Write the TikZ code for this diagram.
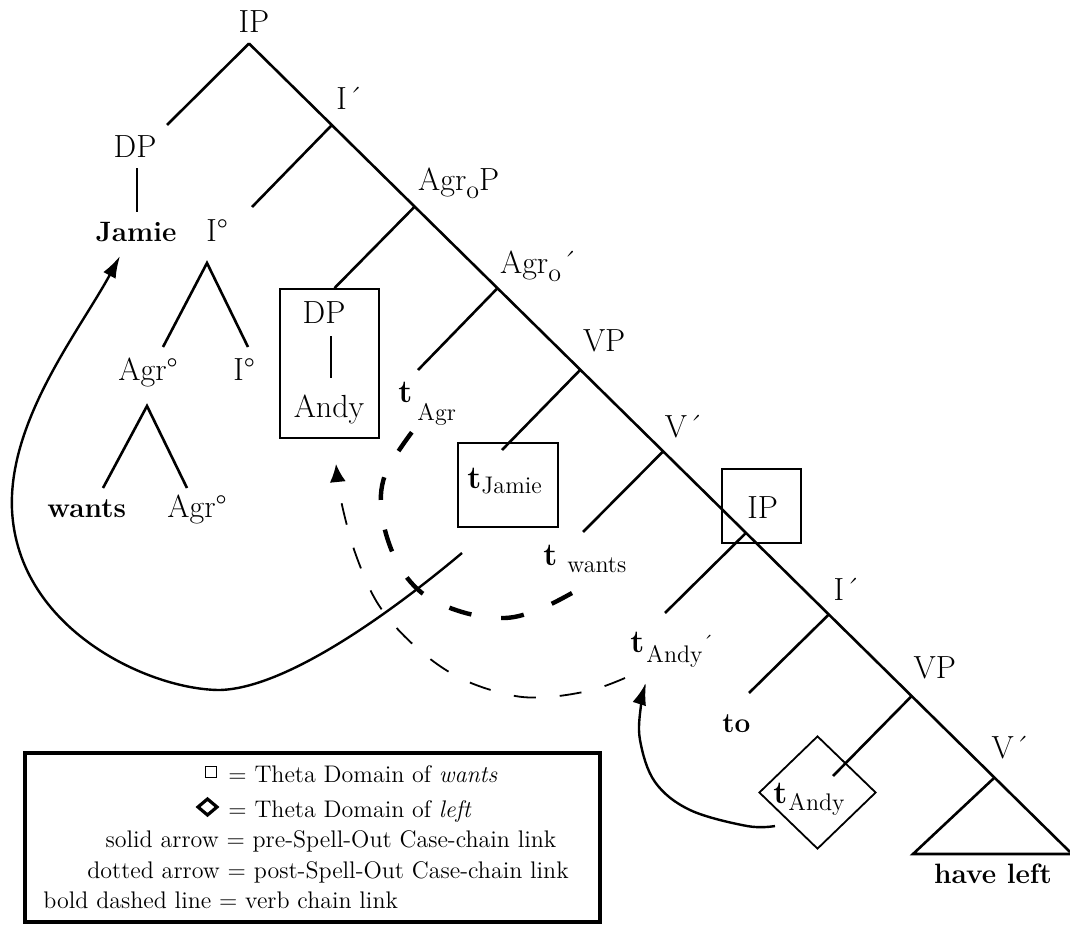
\documentclass[tikz,border=0pt]{standalone}
\usepackage{fontspec}
\usetikzlibrary{arrows.meta,calc,shapes.geometric}

\tikzset{
  branch/.style={line width=1.3pt},
  frame/.style={draw, line width=0.9pt, inner sep=0pt},
  cat/.style={inner sep=0pt, font=\fontsize{16}{19}\selectfont},
  word/.style={inner sep=0pt, font=\fontsize{14}{17}\selectfont\bfseries},
  legend/.style={inner sep=0pt, font=\fontsize{12}{14}\selectfont},
  caselink/.style={line width=1.2pt, -{Latex[length=11pt,width=7pt]}},
  postlink/.style={line width=0.9pt, dash pattern=on 11pt off 12pt, -{Latex[length=9pt,width=8pt]}},
  verblink/.style={line width=2.2pt, dash pattern=on 11.5pt off 15pt},
}
\newcommand{\tlabel}[3]{\textbf{t}\hspace{#2}\raisebox{#3}{\fontsize{12}{13}\selectfont #1}}
\newcommand{\agro}{Agr\raisebox{-4pt}{\fontsize{13}{14}\selectfont o}}
\newcommand{\barlvl}{\kern0.5pt´}

\begin{document}
\begin{tikzpicture}[x=0.5pt,y=-0.5pt]
\path[fill=white,use as bounding box] (0,0) rectangle (1070,925);

% spine
\coordinate (j0) at (249,43.5);
\foreach \k in {1,...,9}
  \coordinate (j\k) at ({249+82.9*\k},{43.5+81.5*\k});
\coordinate (jend) at (1070,852);
\draw[branch] (j0) -- (jend);

\node[cat, anchor=base] (ip) at (254,33) {IP};
\node[cat, anchor=base west] (ibar) at ($(j1)+(4,-15)$) {I\barlvl};
\node[cat, anchor=base west] (agrop) at ($(j2)+(3,-16)$) {\agro P};
\node[cat, anchor=base west] (agrobar) at ($(j3)+(2,-15)$) {\agro\barlvl};
\node[cat, anchor=base west] (vp) at ($(j4)+(2,-18)$) {VP};
\node[cat, anchor=base west] (vbar) at ($(j5)+(1,-14)$) {V\barlvl};
\node[cat, anchor=base west] (ibar2) at ($(j7)+(4,-14)$) {I\barlvl};
\node[cat, anchor=base west] (vp2) at ($(j8)+(1,-17)$) {VP};
\node[cat, anchor=base west] (vbar2) at ($(j9)+(-4,-19)$) {V\barlvl};

% subject
\coordinate (dpend) at (167,125);
\draw[branch] (j0) -- (dpend);
\node[cat, anchor=base] (dp) at (135,158) {DP};
\node[word, anchor=base] (jamie) at (136,242) {Jamie};
\draw[branch, shorten <=5pt, shorten >=5pt] ([xshift=1pt]dp.south) -- ([xshift=1pt]dp.south |- jamie.north);

% inflection head
\coordinate (iend) at (252,207);
\draw[branch] (j1) -- (iend);
\node[cat, anchor=base west] (infl) at (206,242) {I°};
\coordinate (ia) at (207,263);
\coordinate (ial) at (163,347);
\coordinate (iar) at (248,347);
\draw[branch] (ial) -- (ia) -- (iar);
\node[cat, anchor=base west] (agr) at (118,380) {Agr°};
\node[cat, anchor=base west] (infl2) at (233,380) {I°};
\coordinate (aa) at (147,406);
\coordinate (aal) at (103,488);
\coordinate (aar) at (187,488);
\draw[branch] (aal) -- (aa) -- (aar);
\node[word, anchor=base west] (wants) at (47,517) {wants};
\node[cat, anchor=base west] (agr2) at (167,517) {Agr°};

% object
\node[frame, minimum width=49.5pt, minimum height=74.5pt] (dpbox) at (329.5,363.5) {};
\draw[branch] (j2) -- ($(dpbox.north)+(5,0)$);
\node[cat, anchor=base] (dp2) at (324,323) {DP};
\node[cat, anchor=base] (andy) at (329,417) {Andy};
\draw[branch] ($(andy.north)+(2,-16)$) -- ($(andy.north)+(2,-58)$);

\coordinate (tagrend) at (418,370);
\draw[branch] (j3) -- (tagrend);
\node[cat, anchor=base west] (tagr) at (398,402) {\tlabel{Agr}{2.5pt}{-9pt}};

\node[frame, minimum width=50pt, minimum height=42pt] (tjbox) at (508,485) {};
\coordinate (tjend) at (502,450);
\draw[branch] (j4) -- (tjend);
\node[cat, anchor=base west] (tjamie) at (467,488) {\tlabel{Jamie}{0pt}{-2.5pt}};

\coordinate (twend) at (583,532);
\draw[branch] (j5) -- (twend);
\node[cat, anchor=base west] (twants) at (543,565) {\tlabel{wants}{5pt}{-3.5pt}};

% embedded clause
\node[frame, minimum width=39.5pt, minimum height=37pt] (ipbox) at (761.5,506) {};
\node[cat, anchor=base west] (ip2) at (747,518) {IP};

\coordinate (tapend) at (665,613);
\draw[branch] (j6) -- (tapend);
\node[cat, anchor=base west] (tandyp) at (630,652) {\tlabel{Andy}{1pt}{-5pt}\raisebox{1pt}{\fontsize{11}{11}\selectfont ´}};

\coordinate (toend) at (749,693);
\draw[branch] (j7) -- (toend);
\node[word, anchor=base west] (to) at (722,732) {to};

\node[frame, diamond, minimum width=58.5pt, minimum height=56.5pt] (tadiam) at (817.5,792.5) {};
\coordinate (taend) at (833,776);
\draw[branch] (j8) -- (taend);
\node[cat, anchor=base west] (tandy) at (773,803) {\tlabel{Andy}{0.5pt}{-3.5pt}};

\coordinate (trl) at (913,854);
\coordinate (trr) at (1070,854);
\draw[branch] (j9) -- (trl) -- (trr);
\node[word, anchor=base] (haveleft) at (993,883) {have left};

% chains
\coordinate (sa0) at (462,553);
\coordinate (sa1) at (120,256);
\draw[caselink] (sa0) .. controls (400,605) and (290,688) .. (220,690)
  .. controls (150,690) and (18,630) .. (12,510)
  .. controls (8,420) and (80,330) .. (sa1);

\coordinate (vc0) at (572,593);
\coordinate (vc1) at (412,432);
\draw[verblink] plot[smooth, tension=0.6] coordinates {(vc0) (540,609) (505,618) (462,612) (422,593) (396,560) (382,515) (385,475) (vc1)};

\coordinate (pa0) at (625,678);
\coordinate (pa1) at (336,464);
\draw[postlink] plot[smooth, tension=0.6] coordinates {(pa0) (592,690) (548,697) (510,695) (460,678) (417,648) (380,607) (357,558) (342,505) (pa1)};

\coordinate (sb0) at (775,826);
\coordinate (sb1) at (646,683);
\draw[caselink] plot[smooth, tension=0.6] coordinates {(sb0) (747,826) (690,810) (655,782) (640,740) (641,705) (sb1)};

% legend
\draw[line width=2pt] (25,753) rectangle (600,922);
\draw[line width=0.5pt] (205,766) rectangle (216,777);
\draw[line width=1.6pt] (207.5,799) -- (217,807) -- (207.5,815) -- (198,807) -- cycle;
\node[legend, anchor=base west] (leg1) at (228,782) {= Theta Domain of \textit{wants}};
\node[legend, anchor=base west] (leg2) at (228,817) {= Theta Domain of \textit{left}};
\node[legend, anchor=base] (leg3) at (331,847) {solid arrow = pre-Spell-Out Case-chain link};
\node[legend, anchor=base] (leg4) at (328,878) {dotted arrow = post-Spell-Out Case-chain link};
\node[legend, anchor=base west] (leg5) at (43,908) {bold dashed line = verb chain link};
\end{tikzpicture}
\end{document}
